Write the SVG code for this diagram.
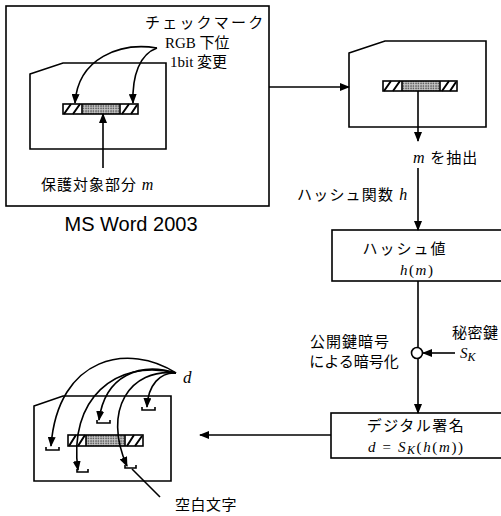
<svg xmlns="http://www.w3.org/2000/svg" width="501" height="516" viewBox="0 0 501 516">
<style>
.ln{fill:none;stroke:#000;stroke-width:1.6}
.bx{fill:#fff;stroke:#000;stroke-width:1.6}
.jp{font-family:'Liberation Serif','Noto Sans CJK JP',serif;font-size:15px;fill:#000}
.mi{font-family:'Liberation Serif',serif;font-style:italic}
.arw{fill:none;stroke:#000;stroke-width:1.6;marker-end:url(#ah)}
.hs{stroke:#000;stroke-width:2}
</style>
<defs>
<marker id="ah" markerUnits="userSpaceOnUse" markerWidth="10" markerHeight="8" refX="9" refY="4" orient="auto">
<path d="M0,0 L10,4 L0,8 Z" fill="#000"/>
</marker>
<pattern id="dots" patternUnits="userSpaceOnUse" width="2.5" height="2.5">
<rect width="2.5" height="2.5" fill="#c8c8c8"/>
<circle cx="1" cy="1" r="0.8" fill="#444"/>
</pattern>
</defs>

<g id="word-frame">
<rect x="6" y="6" width="263" height="200" class="bx"/>
<polygon points="30,74 63,63 166,63 166,149 30,149" class="bx"/>
<g id="bar1">
<rect x="82" y="104" width="38" height="10" fill="url(#dots)"/>
<path class="hs" d="M64,114 L71,104 M73,114 L80,104 M122,114 L129,104 M131,114 L137,105"/>
<rect x="63" y="104" width="75" height="10" class="ln"/>
<path class="ln" d="M82,104 v10 M120,104 v10"/>
</g>
<text x="145" y="28" class="jp" font-size="14" letter-spacing="2.2">チェックマーク</text>
<text x="165" y="48" class="jp" font-size="16">RGB 下位</text>
<text x="170" y="67" class="jp" font-size="16">1bit 変更</text>
<text x="41" y="190" class="jp" letter-spacing="1">保護対象部分 <tspan class="mi" font-size="16">m</tspan></text>
<text x="131" y="231" font-family="'Liberation Sans',Arial,sans-serif" font-size="20" text-anchor="middle">MS Word 2003</text>
</g>

<g id="doc-extract">
<polygon points="349,53 385,41 486,41 486,127 349,127" class="bx"/>
<g id="bar2">
<rect x="402" y="81" width="38" height="10" fill="url(#dots)"/>
<path class="hs" d="M384,91 L391,81 M393,91 L400,81 M442,91 L449,81 M450,91 L456,82"/>
<rect x="383" y="81" width="74" height="10" class="ln"/>
<path class="ln" d="M402,81 v10 M440,81 v10"/>
</g>
</g>

<g id="label-extract">
<text x="413" y="163" class="jp" letter-spacing="1"><tspan class="mi" font-size="16">m</tspan> を抽出</text>
</g>
<g id="label-hashfn">
<text x="297" y="200" class="jp" letter-spacing="1.2">ハッシュ関数 <tspan class="mi" font-size="16">h</tspan></text>
</g>

<g id="hash-box">
<rect x="332" y="230" width="175" height="51" class="bx"/>
<text x="405" y="254" class="jp" text-anchor="middle" letter-spacing="2">ハッシュ値</text>
<text x="400" y="275" class="jp" font-size="18" textLength="33" lengthAdjust="spacing"><tspan class="mi">h</tspan>(<tspan class="mi">m</tspan>)</text>
</g>

<g id="encrypt">
<circle cx="417" cy="353" r="5.5" class="bx"/>
<text x="350" y="347" class="jp" text-anchor="middle" letter-spacing="1">公開鍵暗号</text>
<text x="354" y="367" class="jp" text-anchor="middle" letter-spacing="0">による暗号化</text>
<text x="452" y="338" class="jp" letter-spacing="0.5">秘密鍵</text>
<text x="460" y="358" class="jp mi" font-size="18">S<tspan font-size="12" dy="3">K</tspan></text>
</g>

<g id="sig-box">
<rect x="331" y="413" width="176" height="45" class="bx"/>
<text x="416" y="431" class="jp" text-anchor="middle" letter-spacing="1.5">デジタル署名</text>
<text x="368" y="452" class="jp" font-size="18" textLength="95" lengthAdjust="spacing"><tspan class="mi">d</tspan> = <tspan class="mi">S</tspan><tspan class="mi" font-size="12" dy="2">K</tspan><tspan dy="-2">(</tspan><tspan class="mi">h</tspan>(<tspan class="mi">m</tspan>))</text>
</g>

<g id="doc-signed">
<polygon points="34,406 63,396 171,396 171,481 34,481" class="bx"/>
<g id="bar3">
<rect x="86" y="435" width="39" height="11" fill="url(#dots)"/>
<path class="hs" d="M69,446 L76,435 M78,446 L85,435 M127,446 L134,435 M135,446 L142,436"/>
<rect x="68" y="435" width="75" height="11" class="ln"/>
<path class="ln" d="M86,435 v11 M125,435 v11"/>
</g>
<g id="spaces" class="ln">
<path d="M46,447 v3 h13 v-3"/>
<path d="M97,420 v3 h13 v-3"/>
<path d="M142,407 v3 h13 v-3"/>
<path d="M77,469 v3 h11 v-3"/>
<path d="M125,465 v3 h11 v-3"/>
</g>
<text x="183" y="383" font-family="'Liberation Serif',serif" font-style="italic" font-size="17">d</text>
<text x="175" y="510" class="jp" font-size="16" letter-spacing="0.5">空白文字</text>
</g>

<g id="connectors">
<path d="M103,168 L103,114" class="arw"/>
<path d="M157,48 C120,42 78,58 75,103" class="arw"/>
<path d="M157,48 C140,54 132,75 133,103" class="arw"/>
<path d="M269,87 L349,87" class="arw"/>
<path d="M418,91 L418,141" class="arw"/>
<path d="M418,168 L418,230" class="arw"/>
<path d="M418,281 L418,347.5" class="ln"/>
<path d="M418,358.5 L418,413" class="arw"/>
<path d="M455,353 L423,353" class="arw"/>
<path d="M331,435 L200,435" class="arw"/>
<path d="M176,373 C130,343 58,355 51,446" class="arw"/>
<path d="M176,373 C140,362 105,375 99,420" class="arw"/>
<path d="M176,373 C160,372 148,385 147,407" class="arw"/>
<path d="M176,373 C115,358 68,400 78,470" class="arw"/>
<path d="M176,373 C130,368 102,410 127,466" class="arw"/>
<path d="M132,469 L160,497" class="ln"/>
</g>
</svg>
